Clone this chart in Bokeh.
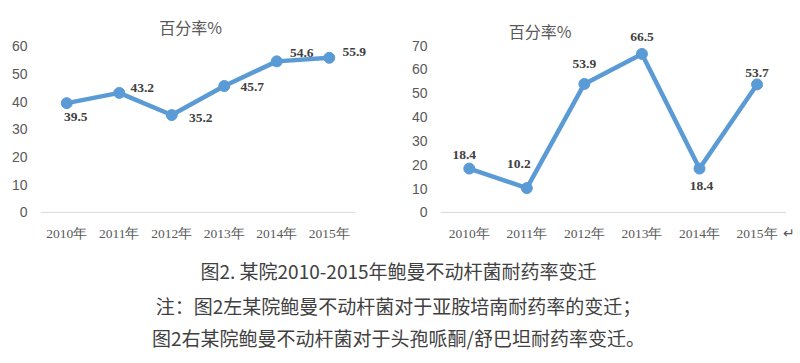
from bokeh.plotting import figure
from bokeh.models import ColumnDataSource, LabelSet, Label, FixedTicker, Range1d
from bokeh.layouts import column, row
from bokeh.embed import file_html
from bokeh.resources import INLINE

years = ["2010年", "2011年", "2012年", "2013年", "2014年", "2015年"]
imipenem = [39.5, 43.2, 35.2, 45.7, 54.6, 55.9]
cefoperazone = [18.4, 10.2, 53.9, 66.5, 18.4, 53.7]
left_ticks = [0, 10, 20, 30, 40, 50, 60]
right_ticks = [0, 10, 20, 30, 40, 50, 60, 70]
chart_title = "百分率%"
caption = "图2. 某院2010-2015年鲍曼不动杆菌耐药率变迁"
note1 = "注：图2左某院鲍曼不动杆菌对于亚胺培南耐药率的变迁；"
note2 = "图2右某院鲍曼不动杆菌对于头孢哌酮/舒巴坦耐药率变迁。"

# label offsets in px (style)
left_dx = [9, 23, 29, 28, 25, 25]
left_dy = [-14, 5, -3, -1, 8, 6]
right_dx = [-5, -8, 0, 0, 2, 0]
right_dy = [14, 24, 20, 17, -17, 11]

LINE = "#5b9bd5"
GRAY = "#595959"


def make_chart(vals, ticks, dx, dy, y_bottom, y_top, x_end, mb_right, title_x, title_y,
               extra_tick=None, extra_text=None):
    n = len(years)
    idx = list(range(n))
    src = ColumnDataSource(dict(x=idx, y=vals, txt=[f"{v:.1f}" for v in vals], dx=dx, dy=dy))
    p = figure(width=400, height=250, x_range=Range1d(-0.5, x_end),
               y_range=Range1d(y_bottom, y_top), output_backend="svg", toolbar_location=None,
               min_border_left=40, min_border_right=mb_right, min_border_top=5,
               min_border_bottom=37)
    p.outline_line_color = None
    p.xgrid.grid_line_color = None
    p.ygrid.grid_line_color = None
    # category axis baseline, spanning the categories only
    p.segment(x0=[idx[0] - 0.5], y0=[0], x1=[idx[-1] + 0.5], y1=[0],
              line_color="#d9d9d9", line_width=1)
    p.line("x", "y", source=src, line_color=LINE, line_width=4.5)
    p.scatter("x", "y", source=src, size=11, fill_color=LINE, line_color=LINE)
    labels = LabelSet(x="x", y="y", text="txt", source=src, x_offset="dx", y_offset="dy",
                      text_align="center", text_baseline="middle",
                      text_font="Liberation Serif", text_font_style="bold",
                      text_font_size="13.5px", text_color="#404040")
    p.add_layout(labels)
    p.add_layout(Label(x=title_x, y=title_y, text=chart_title, text_align="center",
                       text_baseline="middle", text_font="Noto Sans CJK SC",
                       text_font_size="16px", text_color=GRAY))
    yax = p.yaxis[0]
    yax.ticker = FixedTicker(ticks=ticks)
    yax.axis_line_color = None
    yax.major_tick_line_color = None
    yax.minor_tick_line_color = None
    yax.major_tick_out = 0
    yax.major_tick_in = 0
    yax.major_label_standoff = 13
    yax.major_label_text_font = "Liberation Sans"
    yax.major_label_text_font_size = "14px"
    yax.major_label_text_color = GRAY
    xax = p.xaxis[0]
    xticks = list(idx)
    overrides = {i: y for i, y in enumerate(years)}
    if extra_tick is not None:
        xticks.append(extra_tick)
        overrides[extra_tick] = extra_text
    xax.ticker = FixedTicker(ticks=xticks)
    xax.major_label_overrides = overrides
    xax.axis_line_color = None
    xax.major_tick_line_color = None
    xax.minor_tick_line_color = None
    xax.major_tick_out = 0
    xax.major_tick_in = 0
    xax.major_label_standoff = 12
    xax.major_label_text_font = "Liberation Serif"
    xax.major_label_text_font_size = "13.5px"
    xax.major_label_text_color = GRAY
    return p


# left: 52.5 px per category, frame 40..380 ; right: 58.8 px per category, frame 432..798
p1 = make_chart(imipenem, left_ticks, left_dx, left_dy, -0.4, 74.8, 5.976, 20, 2.36, 66.9)
p2 = make_chart(cefoperazone, right_ticks, right_dx, right_dy, -0.45, 86.8, 5.72, 2, 1.23, 76.3,
                extra_tick=5.55, extra_text="↵")

cap = figure(width=800, height=113, x_range=Range1d(0, 800), y_range=Range1d(0, 113),
             output_backend="svg", toolbar_location=None, min_border=0)
cap.axis.visible = False
cap.grid.grid_line_color = None
cap.outline_line_color = None
for txt, yy in [(caption, 93), (note1, 58), (note2, 26)]:
    cap.add_layout(Label(x=398, y=yy, text=txt, text_align="center", text_baseline="middle",
                         text_font="Noto Sans CJK SC", text_font_size="19px",
                         text_color="#404040"))

layout = column(row(p1, p2), cap)
open("out.html", "w").write(file_html(layout, INLINE))
